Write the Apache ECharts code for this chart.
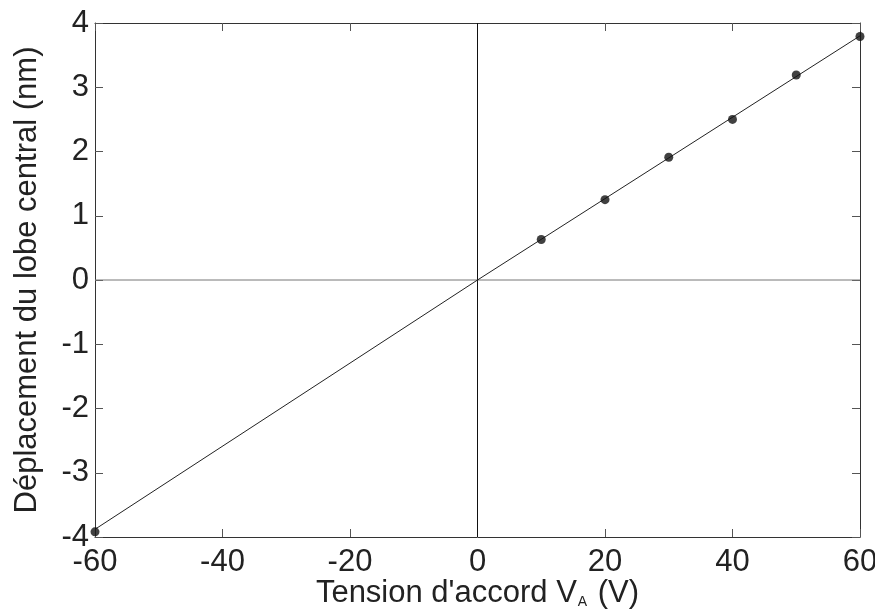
<!DOCTYPE html>
<html>
<head>
<meta charset="utf-8">
<script src="https://cdn.jsdelivr.net/npm/echarts@6/dist/echarts.min.js"></script>
<style>
html,body{margin:0;padding:0;background:#fff;}
#chart{width:875px;height:610px;}
</style>
</head>
<body>
<div id="chart"></div>
<script>
// Data
const voltage = [-60, 10, 20, 30, 40, 50, 60];
const shift = [-3.92, 0.63, 1.25, 1.91, 2.50, 3.19, 3.79];
const fitX = [-60, 0, 60];
const fitY = [-3.88, 0, 3.8];
const xTicks = [-60, -40, -20, 0, 20, 40, 60];
const yTicks = [-4, -3, -2, -1, 0, 1, 2, 3, 4];

const FONT = 'Liberation Sans, Arial, sans-serif';
const chart = echarts.init(document.getElementById('chart'), null, {renderer: 'canvas'});

const axisLine = {show: true, onZero: false, lineStyle: {color: '#333', width: 1}};
const tickStyle = {show: true, inside: true, length: 8, lineStyle: {color: '#555', width: 1}};

const option = {
  backgroundColor: '#fff',
  animation: false,
  grid: {left: 95, right: 15, top: 23, bottom: 73, containLabel: false, outerBoundsMode: 'none'},
  xAxis: [
    {
      type: 'value', min: -60, max: 60, interval: 20, position: 'bottom',
      axisLine: axisLine, axisTick: tickStyle, splitLine: {show: false},
      axisLabel: {fontFamily: FONT, fontSize: 31, color: '#222', margin: 10},
      name: 'Tension d\'accord V{sub|A} (V)',
      nameLocation: 'middle', nameGap: 40, nameMoveOverlap: false,
      nameTextStyle: {fontFamily: FONT, fontSize: 31, color: '#222',
        rich: {sub: {fontFamily: FONT, fontSize: 14, color: '#222', verticalAlign: 'bottom', padding: [18, 2, 0, 1]}}}
    },
    {
      type: 'value', min: -60, max: 60, interval: 20, position: 'top',
      axisLine: axisLine, axisTick: tickStyle, splitLine: {show: false},
      axisLabel: {show: false}
    }
  ],
  yAxis: [
    {
      type: 'value', min: -4, max: 4, interval: 1, position: 'left',
      axisLine: axisLine, axisTick: tickStyle, splitLine: {show: false},
      axisLabel: {fontFamily: FONT, fontSize: 31, color: '#222', margin: 6},
      name: 'Déplacement du lobe central (nm)',
      nameLocation: 'middle', nameGap: 52,
      nameTextStyle: {fontFamily: FONT, fontSize: 31, color: '#222'}
    },
    {
      type: 'value', min: -4, max: 4, interval: 1, position: 'right',
      axisLine: axisLine, axisTick: tickStyle, splitLine: {show: false},
      axisLabel: {show: false}
    }
  ],
  series: [
    {
      type: 'line', data: [[-60, 0], [60, 0]], symbol: 'none',
      lineStyle: {color: '#777', width: 1}, silent: true, z: 1
    },
    {
      type: 'line', data: [[0, -4], [0, 4]], symbol: 'none',
      lineStyle: {color: '#111', width: 1}, silent: true, z: 1
    },
    {
      type: 'line', data: fitX.map((x, i) => [x, fitY[i]]), symbol: 'none',
      lineStyle: {color: '#222', width: 1}, z: 2
    },
    {
      type: 'scatter', data: voltage.map((x, i) => [x, shift[i]]),
      symbol: 'circle', symbolSize: 9, itemStyle: {color: '#111'}, z: 3
    }
  ]
};
chart.setOption(option);
</script>
</body>
</html>
